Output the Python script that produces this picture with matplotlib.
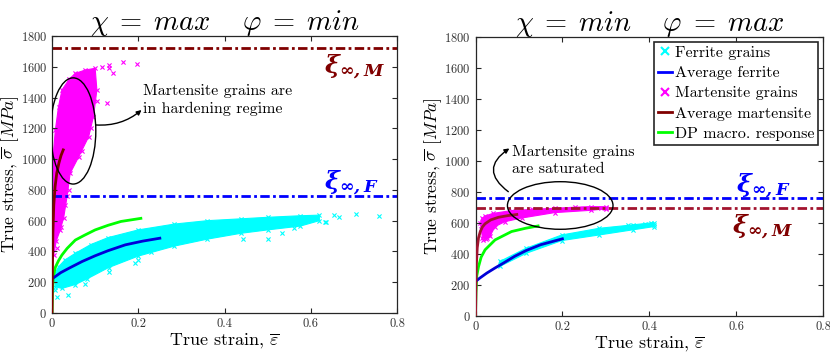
import matplotlib
matplotlib.use("Agg")
import matplotlib.pyplot as plt
from matplotlib.patches import Ellipse
from matplotlib.lines import Line2D

plt.rcParams['font.family'] = 'serif'
plt.rcParams['font.serif'] = ['cmr10']
plt.rcParams['mathtext.fontset'] = 'cm'
plt.rcParams['axes.formatter.use_mathtext'] = True
# bold italic serif for the xi labels (custom math font set)
plt.rcParams['mathtext.bf'] = 'DejaVu Serif:italic:bold'

# ---- left panel: chi = max, phi = min ----
L_fer_up_x = [0.004, 0.015, 0.03, 0.054, 0.09, 0.13, 0.2, 0.284, 0.36, 0.438, 0.5, 0.576, 0.62]
L_fer_up_y = [240, 300, 345, 388, 445, 490, 540, 578, 600, 612, 622, 632, 636]
L_fer_lo_x = [0.62, 0.576, 0.5, 0.438, 0.36, 0.284, 0.2, 0.131, 0.08, 0.054, 0.023, 0.008]
L_fer_lo_y = [600, 565, 540, 518, 480, 435, 370, 295, 220, 185, 160, 170]
L_fer_pts_x = [0.0115, 0.037, 0.0077, 0.014, 0.077, 0.131, 0.192, 0.2, 0.23, 0.442, 0.5, 0.534,
               0.562, 0.634, 0.653, 0.665, 0.704, 0.758, 0.635, 0.6, 0.55]
L_fer_pts_y = [106, 117, 149, 193, 188, 268, 323, 344, 398, 479, 479, 522,
               551, 593, 637, 627, 642, 631, 594, 620, 595]

L_mar_x = [0.001, 0.002, 0.0077, 0.015, 0.023, 0.04, 0.054, 0.077, 0.1, 0.104, 0.096, 0.085,
           0.062, 0.042, 0.035, 0.027, 0.019, 0.01, 0.004]
L_mar_y = [600, 1000, 1189, 1340, 1449, 1520, 1557, 1579, 1590, 1449, 1276, 1146,
           1016, 908, 760, 620, 540, 470, 380]
L_mar_pts_x = [0.165, 0.198, 0.131, 0.142, 0.131, 0.127, 0.115, 0.105, 0.09, 0.07, 0.04, 0.03, 0.02, 0.012]
L_mar_pts_y = [1629, 1618, 1611, 1561, 1590, 1367, 1600, 1380, 1200, 1050, 800, 700, 560, 420]

L_avg_fer_x = [0.004, 0.02, 0.04, 0.07, 0.1, 0.13, 0.17, 0.21, 0.25]
L_avg_fer_y = [230, 262, 292, 335, 372, 405, 443, 467, 486]
L_avg_mar_x = [0, 0.001, 0.002, 0.004, 0.007, 0.011, 0.016, 0.021, 0.026]
L_avg_mar_y = [0, 300, 520, 700, 820, 910, 975, 1025, 1060]
L_dp_x = [0, 0.001, 0.003, 0.0077, 0.015, 0.023, 0.035, 0.054, 0.075, 0.1, 0.13, 0.16, 0.206]
L_dp_y = [0, 150, 236, 297, 340, 377, 420, 474, 505, 540, 570, 595, 615]
L_xi_F = 760
L_xi_M = 1720

# ---- right panel: chi = min, phi = max ----
R_fer_up_x = [0.056, 0.117, 0.199, 0.285, 0.362, 0.411]
R_fer_up_y = [352, 438, 523, 566, 588, 603]
R_fer_lo_x = [0.411, 0.362, 0.285, 0.199, 0.117, 0.056]
R_fer_lo_y = [577, 556, 523, 487, 405, 320]
R_fer_pts_x = [0.405, 0.41, 0.39, 0.35]
R_fer_pts_y = [600, 590, 595, 585]

R_mar_x = [0.011, 0.015, 0.022, 0.04, 0.083, 0.13, 0.182, 0.23, 0.266, 0.3,
           0.3, 0.266, 0.182, 0.106, 0.068, 0.045, 0.033, 0.024, 0.016]
R_mar_y = [600, 630, 645, 662, 680, 688, 695, 702, 706, 705,
           692, 682, 667, 632, 609, 577, 513, 495, 505]
R_mar_pts_x = [0.29, 0.3, 0.018, 0.026, 0.03, 0.012]
R_mar_pts_y = [700, 695, 490, 505, 520, 560]

R_avg_fer_x = [0.002, 0.01, 0.026, 0.045, 0.064, 0.09, 0.117, 0.15, 0.2]
R_avg_fer_y = [227, 245, 277, 310, 341, 385, 423, 460, 498]
R_avg_mar_x = [0, 0.001, 0.002, 0.004, 0.007, 0.011, 0.016, 0.022, 0.035, 0.053, 0.075, 0.095]
R_avg_mar_y = [0, 200, 330, 440, 505, 545, 575, 595, 620, 637, 648, 655]
R_dp_x = [0, 0.001, 0.003, 0.007, 0.013, 0.022, 0.045, 0.083, 0.115, 0.144]
R_dp_y = [0, 150, 260, 319, 380, 427, 491, 545, 566, 581]
R_xi_F = 760
R_xi_M = 700

CYAN = '#00FFFF'
MAGENTA = '#FF00FF'
BLUE = '#0000FF'
DBLUE = '#0000D8'
GREEN = '#00FF00'
MAROON = '#800000'
CRIMSON = '#A2142F'
DASH = (3.4, 1.2, 1.0, 1.2)


def style_axes(ax):
    ax.set_xlim(0, 0.8)
    ax.set_ylim(0, 1800)
    ax.set_xticks([0, 0.2, 0.4, 0.6, 0.8])
    ax.set_xticklabels(['0', '0.2', '0.4', '0.6', '0.8'])
    ax.set_yticks(range(0, 1801, 200))
    ax.tick_params(direction='in', top=True, right=True, length=3.5, width=0.8,
                   labelsize=9, labelcolor='#333333', color='#262626')
    for s in ax.spines.values():
        s.set_color('#262626')
        s.set_linewidth(0.9)
    ax.set_xlabel(r'True strain, $\overline{\varepsilon}$', fontsize=13, labelpad=1)
    ax.set_ylabel(r'True stress, $\overline{\sigma}$ $[MPa]$', fontsize=12.5, labelpad=0)


def draw_cloud(ax, xs, ys, color, px, py):
    ax.fill(xs, ys, color=color, lw=0.8, zorder=1)
    ax.scatter(xs + px, ys + py, marker='x', s=9, linewidths=0.8, color=color, zorder=1)


def xi_label(ax, x, y, sub, color):
    ax.text(x, y, r'$\mathbf{\xi_{\infty,%s}}$' % sub, color=color, fontsize=18,
            math_fontfamily='custom', ha='left', va='center')


fig = plt.figure(figsize=(8.3, 3.54), dpi=100)
axL = fig.add_axes([0.0627, 0.1158, 0.4156, 0.7825])
axR = fig.add_axes([0.5729, 0.1073, 0.4187, 0.7882])

# left
draw_cloud(axL, L_mar_x, L_mar_y, MAGENTA, L_mar_pts_x, L_mar_pts_y)
draw_cloud(axL, L_fer_up_x + L_fer_lo_x, L_fer_up_y + L_fer_lo_y, CYAN, L_fer_pts_x, L_fer_pts_y)
axL.axhline(L_xi_M, color=MAROON, lw=2, dashes=DASH, zorder=2)
axL.axhline(L_xi_F, color=BLUE, lw=2, dashes=DASH, zorder=2)
axL.plot(L_dp_x, L_dp_y, color=GREEN, lw=2, zorder=3)
axL.plot(L_avg_fer_x, L_avg_fer_y, color=DBLUE, lw=2, zorder=3)
axL.plot(L_avg_mar_x, L_avg_mar_y, color=MAROON, lw=2, zorder=3)
axL.add_patch(Ellipse((0.049, 1183), 0.105, 690, fill=False, ec='black', lw=1, zorder=4))
axL.annotate('', xy=(0.2075, 1319), xytext=(0.101, 1222),
             arrowprops=dict(arrowstyle='-|>', color='black', lw=1, mutation_scale=7,
                             connectionstyle='arc3,rad=0.2', shrinkA=0, shrinkB=0))
axL.text(0.211, 1383, 'Martensite grains are\nin hardening regime', fontsize=11.5,
         ha='left', va='center', linespacing=1.35)
xi_label(axL, 0.63, 1600, 'M', MAROON)
xi_label(axL, 0.63, 850, 'F', BLUE)
axL.set_title(r'$\chi \;=\; max \quad\; \varphi \;=\; min$', fontsize=20.5, pad=4)
style_axes(axL)

# right
draw_cloud(axR, R_mar_x, R_mar_y, MAGENTA, R_mar_pts_x, R_mar_pts_y)
draw_cloud(axR, R_fer_up_x + R_fer_lo_x, R_fer_up_y + R_fer_lo_y, CYAN, R_fer_pts_x, R_fer_pts_y)
axR.axhline(R_xi_F, color=BLUE, lw=2, dashes=DASH, zorder=2)
axR.axhline(R_xi_M, color=CRIMSON, lw=2, dashes=DASH, zorder=2)
axR.plot(R_dp_x, R_dp_y, color=GREEN, lw=2, zorder=3)
axR.plot(R_avg_fer_x, R_avg_fer_y, color=DBLUE, lw=2, zorder=3)
axR.plot(R_avg_mar_x, R_avg_mar_y, color=CRIMSON, lw=2, zorder=3)
axR.add_patch(Ellipse((0.195, 713), 0.243, 307, fill=False, ec='black', lw=1, zorder=4))
axR.annotate('', xy=(0.078, 1081), xytext=(0.0755, 802),
             arrowprops=dict(arrowstyle='-|>', color='black', lw=1, mutation_scale=7,
                             connectionstyle='arc3,rad=-0.7', shrinkA=0, shrinkB=0))
axR.text(0.083, 1004, 'Martensite grains\nare saturated', fontsize=11.5,
         ha='left', va='center', linespacing=1.35)
xi_label(axR, 0.6, 840, 'F', BLUE)
xi_label(axR, 0.59, 577, 'M', MAROON)
axR.set_title(r'$\chi \;=\; min \quad\; \varphi \;=\; max$', fontsize=20.5, pad=4)
style_axes(axR)

handles = [
    Line2D([], [], ls='none', marker='x', color=CYAN, ms=6, mew=1.5),
    Line2D([], [], color=BLUE, lw=2),
    Line2D([], [], ls='none', marker='x', color=MAGENTA, ms=6, mew=1.5),
    Line2D([], [], color=MAROON, lw=2),
    Line2D([], [], color=GREEN, lw=2),
]
labels = ['Ferrite grains', 'Average ferrite', 'Martensite grains',
          'Average martensite', 'DP macro. response']
leg = axR.legend(handles, labels, loc='upper right', fontsize=11.5, handlelength=0.9,
                 handletextpad=0.15, labelspacing=0.38, borderpad=0.25, borderaxespad=0.3,
                 fancybox=False, framealpha=1)
leg.get_frame().set_edgecolor('#262626')
leg.get_frame().set_linewidth(1.2)

fig.savefig('out.png', dpi=100)
